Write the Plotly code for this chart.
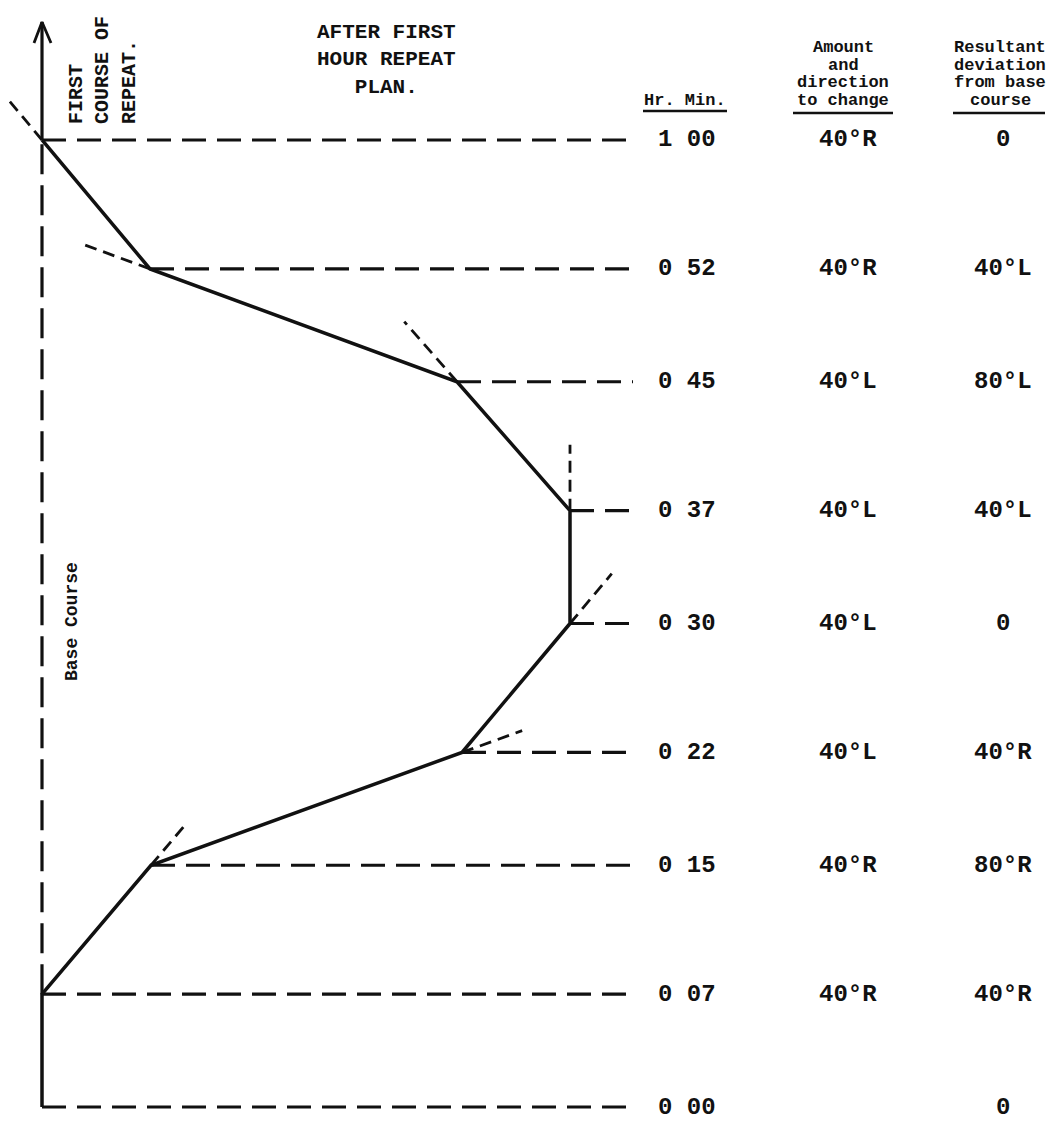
import math
import plotly.graph_objects as go

# ---------------- data ----------------
minutes = [0, 7, 15, 22, 30, 37, 45, 52, 60]
time_labels = ["0 00", "0 07", "0 15", "0 22", "0 30", "0 37", "0 45", "0 52", "1 00"]
lateral_offset = [0, 0, 109, 420, 528, 528, 415, 108, 0]
change = ["", "40°R", "40°R", "40°L", "40°L", "40°L", "40°L", "40°R", "40°R"]
deviation = ["0", "40°R", "80°R", "40°R", "0", "40°L", "80°L", "40°L", "0"]

# ---------------- geometry / style ----------------
W, H = 1056, 1125
X0 = 42          # pixel column of base course
Y0 = 1107        # pixel row of minute 0
PPM = 16.117     # pixels per minute
GUIDE_END = 633 - X0
ext_len = [0, 0, 55, 64, 65, 66, 80, 71, 54]  # px length of heading-continuation dashes
INK = "#111111"
FONT = "Liberation Mono, Courier New, monospace"
LW = 3.2

x_range = [-X0, W - X0]
y_range = [-(H - Y0) / PPM, Y0 / PPM]


def px(x):
    return x / W


def py(y):
    return 1 - y / H


fig = go.Figure()

# horizontal dashed guide lines at each time mark
gx, gy = [], []
for lo, m in zip(lateral_offset, minutes):
    gx += [lo, GUIDE_END, None]
    gy += [m, m, None]
fig.add_trace(go.Scatter(x=gx, y=gy, mode="lines",
                         line=dict(color=INK, width=LW, dash="24px,11px"),
                         hoverinfo="skip"))

# base course (dashed, from first turn up to end of hour)
fig.add_trace(go.Scatter(x=[0, 0], y=[minutes[1], minutes[-1]], mode="lines",
                         line=dict(color=INK, width=LW, dash="30px,11px"),
                         hoverinfo="skip"))

# continuation-of-heading dashes at each turn
ex, ey = [], []
for i in range(2, len(minutes)):
    dx = lateral_offset[i] - lateral_offset[i - 1]
    dy = (minutes[i] - minutes[i - 1]) * PPM
    n = math.hypot(dx, dy)
    L = ext_len[i]
    ex += [lateral_offset[i], lateral_offset[i] + dx / n * L, None]
    ey += [minutes[i], minutes[i] + dy / n * L / PPM, None]
fig.add_trace(go.Scatter(x=ex, y=ey, mode="lines",
                         line=dict(color=INK, width=LW - 0.4, dash="12px,7px"),
                         hoverinfo="skip"))

# the track flown
fig.add_trace(go.Scatter(x=lateral_offset, y=minutes, mode="lines",
                         line=dict(color=INK, width=LW + 0.3),
                         hoverinfo="skip"))

# arrow on first course of repeat
shaft = 118 / PPM
tip = minutes[-1] + shaft
head_h = 21 / PPM
fig.add_trace(go.Scatter(x=[0, 0], y=[minutes[-1], tip], mode="lines",
                         line=dict(color=INK, width=LW), hoverinfo="skip"))
fig.add_trace(go.Scatter(x=[-8, 0, 9], y=[tip - head_h, tip, tip - head_h], mode="lines",
                         line=dict(color=INK, width=LW - 0.4), hoverinfo="skip"))

annotations = []

# row labels
for m, tl, ch, dv in zip(minutes, time_labels, change, deviation):
    annotations.append(dict(x=687 - X0, y=m, xref="x", yref="y", text=f"<b>{tl}</b>",
                            showarrow=False, xanchor="center", yanchor="middle",
                            font=dict(family=FONT, size=24, color=INK)))
    if ch:
        annotations.append(dict(x=848 - X0, y=m, xref="x", yref="y", text=f"<b>{ch}</b>",
                                showarrow=False, xanchor="center", yanchor="middle",
                                font=dict(family=FONT, size=24, color=INK)))
    annotations.append(dict(x=1003 - X0, y=m, xref="x", yref="y", text=f"<b>{dv}</b>",
                            showarrow=False, xanchor="center", yanchor="middle",
                            font=dict(family=FONT, size=24, color=INK)))

# column headers
for txt, cy in zip(["Amount", "and", "direction", "to change"], [47, 65, 82, 100]):
    annotations.append(dict(x=px(843), y=py(cy), xref="paper", yref="paper",
                            text=f"<b>{txt}</b>", showarrow=False,
                            xanchor="center", yanchor="middle",
                            font=dict(family=FONT, size=17, color=INK)))
for txt, cy in zip(["Resultant", "deviation", "from base", "course"], [47, 65, 82, 100]):
    annotations.append(dict(x=px(1000), y=py(cy), xref="paper", yref="paper",
                            text=f"<b>{txt}</b>", showarrow=False,
                            xanchor="center", yanchor="middle",
                            font=dict(family=FONT, size=17, color=INK)))
annotations.append(dict(x=px(685), y=py(100), xref="paper", yref="paper",
                        text="<b>Hr. Min.</b>", showarrow=False,
                        xanchor="center", yanchor="middle",
                        font=dict(family=FONT, size=17, color=INK)))

# title block
annotations.append(dict(x=px(386), y=py(60), xref="paper", yref="paper",
                        text="<b>AFTER FIRST<br>HOUR REPEAT<br>PLAN.</b>", showarrow=False,
                        xanchor="center", yanchor="middle", align="center",
                        font=dict(family=FONT, size=21, color=INK)))

# vertical labels
for txt, cx in zip(["FIRST", "COURSE OF", "REPEAT."], [77, 103, 130]):
    annotations.append(dict(x=px(cx), y=py(126), xref="paper", yref="paper",
                            text=f"<b>{txt}</b>", showarrow=False, textangle=-90,
                            xanchor="center", yanchor="bottom",
                            font=dict(family=FONT, size=20, color=INK)))
annotations.append(dict(x=px(72), y=py(622), xref="paper", yref="paper",
                        text="<b>Base Course</b>", showarrow=False, textangle=-90,
                        xanchor="center", yanchor="middle",
                        font=dict(family=FONT, size=18, color=INK)))

# header underlines
shapes = []
for x1, x2, yy in [(643, 727, 111), (793, 893, 113), (953, 1045, 113)]:
    shapes.append(dict(type="line", xref="paper", yref="paper",
                       x0=px(x1), x1=px(x2), y0=py(yy), y1=py(yy),
                       line=dict(color=INK, width=2.5)))

fig.update_layout(
    width=W, height=H,
    margin=dict(l=0, r=0, t=0, b=0),
    paper_bgcolor="white", plot_bgcolor="white",
    showlegend=False,
    xaxis=dict(range=x_range, visible=False, fixedrange=True),
    yaxis=dict(range=y_range, visible=False, fixedrange=True),
    annotations=annotations,
    shapes=shapes,
)

fig.write_html("out.html", config={"displayModeBar": False},
               post_script="document.body.style.margin='0';")
